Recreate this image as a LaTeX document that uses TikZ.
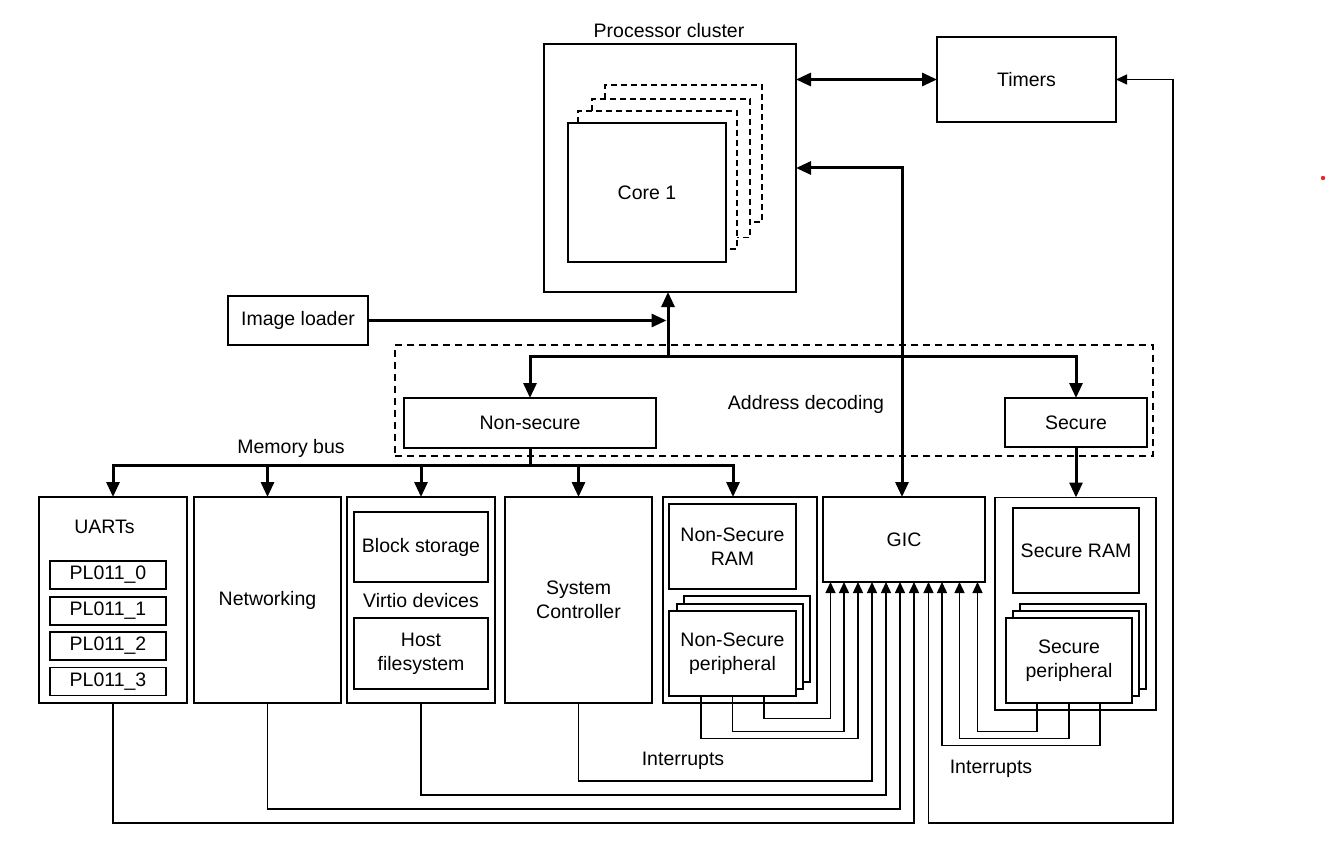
\documentclass[tikz,border=0pt]{standalone}
\usepackage{fontspec}
\setmainfont{Liberation Sans}
\usetikzlibrary{arrows.meta}
\definecolor{reddot}{RGB}{230,40,40}
\begin{document}
\begin{tikzpicture}[x=1pt,y=-1pt,
  every node/.style={font=\fontsize{19.5}{24}\selectfont},
  box/.style={draw, line width=1.2pt, fill=white, inner sep=0pt, outer sep=0pt, align=center},
  lbl/.style={inner sep=0pt, align=center, yshift=-1.5pt},
  thk/.style={line width=3pt},
  bigtip/.tip={Triangle[length=15pt,width=13pt]},
  smalltip/.tip={Triangle[length=11pt,width=10pt]},
  thkarrow/.style={thk, -bigtip},
  thkboth/.style={thk, bigtip-bigtip},
  wire/.style={line width=1.4pt, -smalltip},
  wireboth/.style={line width=1.4pt, smalltip-smalltip},
  dashbox/.style={line width=1.1pt, dash pattern=on 6pt off 4pt},
  adashed/.style={draw, line width=1.1pt, dash pattern=on 7pt off 5pt, inner sep=0pt, outer sep=0pt}
]
\useasboundingbox (0,0) rectangle (1328,856);

% processor cluster
\node[box, minimum width=252pt, minimum height=248pt] (proc) at (670,168) {};
\node[lbl] (proct) at (669,29) {Processor cluster};
\draw[dashbox] (605,99) -- (605,85) -- (762,85) -- (762,222) -- (750,222);
\draw[dashbox] (592,111) -- (592,99) -- (750,99) -- (750,237.5) -- (737,237.5);
\draw[dashbox] (578,123) -- (578,111) -- (737,111) -- (737,249) -- (726,249);
\node[box, minimum width=158pt, minimum height=139pt] (core) at (647,192.5) {Core 1};

\node[box, minimum width=179pt, minimum height=85pt] (timers) at (1026.5,79.5) {Timers};
\node[box, minimum width=140pt, minimum height=49pt] (imgload) at (298,320.5) {Image loader};

% address decoding
\node[adashed, minimum width=758pt, minimum height=111pt] (addr) at (774,400.5) {};
\node[lbl] (addrt) at (806,403) {Address decoding};
\node[box, minimum width=252pt, minimum height=50pt] (nonsec) at (530,423) {Non-secure};
\node[box, minimum width=142pt, minimum height=49pt] (secure) at (1076,422.5) {Secure};
\node[lbl] (mbt) at (291,447) {Memory bus};

% bottom row
\node[box, minimum width=148pt, minimum height=206pt] (uarts) at (113,600) {};
\node[lbl] (uartst) at (104.5,525) {UARTs};
\node[box, minimum width=116pt, minimum height=28pt] (pl0) at (108,575) {PL011\_0};
\node[box, minimum width=116pt, minimum height=28pt] (pl1) at (108,611) {PL011\_1};
\node[box, minimum width=116pt, minimum height=28pt] (pl2) at (108,646) {PL011\_2};
\node[box, minimum width=116pt, minimum height=28pt] (pl3) at (108,681.5) {PL011\_3};

\node[box, minimum width=147pt, minimum height=206pt] (netw) at (267.5,600) {Networking};

\node[box, minimum width=148pt, minimum height=206pt] (virtio) at (421,600) {};
\node[box, minimum width=134pt, minimum height=70pt] (block) at (421,547) {Block storage};
\node[lbl] (virtiot) at (421,599) {Virtio devices};
\node[box, minimum width=134pt, minimum height=71pt] (host) at (421,653.5) {Host\\filesystem};

\node[box, minimum width=147pt, minimum height=206pt] (sysctl) at (578.5,600) {System\\Controller};

\node[box, minimum width=154pt, minimum height=206pt] (nsgroup) at (740,600) {};
\node[box, minimum width=127pt, minimum height=85pt] (nsram) at (732.5,546.5) {Non-Secure\\RAM};
\node[box, minimum width=126pt, minimum height=86pt] (nsperb2) at (747,639) {};
\node[box, minimum width=126pt, minimum height=85pt] (nsperb1) at (740,646.5) {};
\node[box, minimum width=127pt, minimum height=85pt] (nsper) at (732.5,653.5) {Non-Secure\\peripheral};

\node[box, minimum width=162pt, minimum height=85pt] (gic) at (904,539.5) {GIC};

\node[box, minimum width=161pt, minimum height=212.5pt] (secgroup) at (1075.5,603.75) {};
\node[box, minimum width=126pt, minimum height=85pt] (secram) at (1076,550.5) {Secure RAM};
\node[box, minimum width=126pt, minimum height=85pt] (secperb2) at (1083,646.5) {};
\node[box, minimum width=126pt, minimum height=85pt] (secperb1) at (1076,653.5) {};
\node[box, minimum width=126pt, minimum height=85pt] (secper) at (1069,660.5) {Secure\\peripheral};

\node[lbl] (int1) at (683,759) {Interrupts};
\node[lbl] (int2) at (991,767) {Interrupts};

% coordinates
\coordinate (busT) at (668,356);
\coordinate (ilj) at (666.5,320.5);
\coordinate (mb) at (530,465);
\coordinate (tc) at (1173,823);
\coordinate (g1) at ([xshift=7.5pt]gic.south west);
\coordinate (g2) at ([xshift=21pt]gic.south west);
\coordinate (g3) at ([xshift=35pt]gic.south west);
\coordinate (g4) at ([xshift=49pt]gic.south west);
\coordinate (g5) at ([xshift=63pt]gic.south west);
\coordinate (g6) at ([xshift=77pt]gic.south west);
\coordinate (g7) at ([xshift=91pt]gic.south west);
\coordinate (g8) at ([xshift=105.5pt]gic.south west);
\coordinate (g9) at ([xshift=119pt]gic.south west);
\coordinate (g10) at ([xshift=136.5pt]gic.south west);
\coordinate (g11) at ([xshift=154.5pt]gic.south west);

% thick connectors
\draw[thkboth] (proc.east |- timers.west) -- (timers.west);
\draw[thkboth] (proc.east) -| ([xshift=-2pt]gic.north);
\draw[thkarrow] (imgload.east) -- (ilj);
\draw[thkarrow] (busT) -- (busT |- proc.south);
\draw[thkboth] (nonsec.north) |- (busT -| secure.north) -- (secure.north);
\draw[thk] (nonsec.south) -- (mb);
\draw[thkarrow] (mb) -| (uarts.north);
\draw[thkarrow] (mb) -| (netw.north);
\draw[thkarrow] (mb) -| (virtio.north);
\draw[thkarrow] (mb) -| (sysctl.north);
\draw[thkarrow] (mb) -| ([xshift=-7pt]nsgroup.north);
\draw[thkarrow] (secure.south) -- (secure.south |- secgroup.north);

% interrupt wires
\draw[wire] ([xshift=-32pt]nsper.south east) -- ++(0,22.5) -| (g1);
\draw[wire] (nsper.south) -- ++(0,35.5) -| (g2);
\draw[wire] ([xshift=32pt]nsper.south west) -- ++(0,42.5) -| (g3);
\draw[wire] (sysctl.south) -- ++(0,78) -| (g4);
\draw[wire] (virtio.south) -- ++(0,92) -| (g5);
\draw[wire] (netw.south) -- ++(0,106) -| (g6);
\draw[wire] (uarts.south) -- ++(0,120) -| (g7);
\draw[wireboth] (g8) |- (tc) |- (timers.east);
\draw[wire] ([xshift=-32pt]secper.south east) -- ++(0,42.5) -| (g9);
\draw[wire] (secper.south) -- ++(0,35.5) -| (g10);
\draw[wire] ([xshift=31pt]secper.south west) -- ++(0,28.5) -| (g11);

\fill[reddot] (1323,178) circle (2.2pt);
\end{tikzpicture}
\end{document}
